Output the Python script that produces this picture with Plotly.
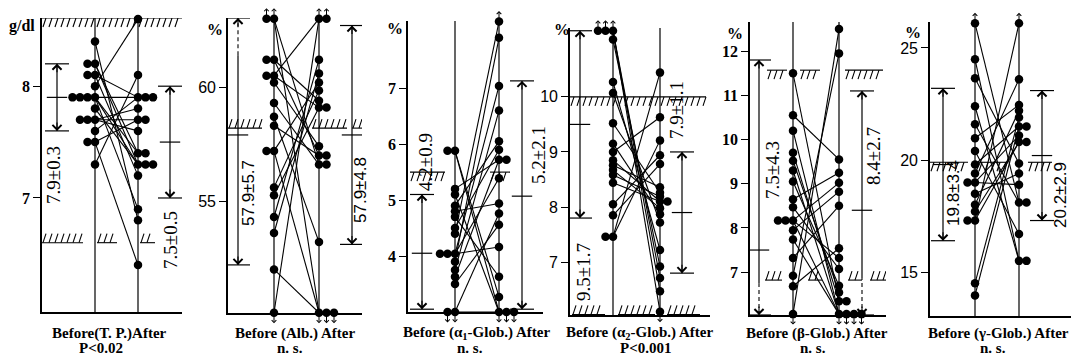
import plotly.graph_objects as go
import numpy as np

W, H = 1071, 363

# ---------------- data ----------------
tp_before = [8.4, 8.2, 8.2, 8.1, 8.1, 8.0, 7.9, 7.9, 7.9, 7.9, 7.8, 7.7, 7.7, 7.7, 7.6, 7.5, 7.5, 7.3]
tp_after = [6.8, 7.3, 7.4, 7.9, 7.2, 8.6, 7.9, 7.3, 7.4, 6.9, 7.3, 7.7, 7.6, 7.8, 7.9, 7.7, 6.4, 8.1]

alb_before = [63.0, 63.0, 61.2, 61.2, 60.5, 60.5, 60.2, 59.3, 58.7, 58.3, 57.2, 57.2, 55.6, 55.25, 54.3, 53.6, 52.0, 50.1]
alb_after = [56.6, 50.1, 59.4, 57.0, 63.0, 59.1, 57.4, 56.6, 53.2, 57.0, 60.2, 50.1, 59.85, 59.1, 61.2, 60.6, 50.1, 63.0]

a1_before = [5.88, 5.88, 5.2, 5.1, 4.9, 4.8, 4.7, 4.5, 4.4, 4.04, 4.04, 4.04, 3.9, 3.75, 3.63, 3.5, 3.0, 3.0]
a1_after = [3.27, 3.0, 5.72, 3.0, 6.05, 4.94, 3.63, 5.9, 8.19, 7.04, 4.16, 5.39, 7.9, 6.6, 5.72, 4.56, 4.76, 3.0]

a2_before = [11.2, 11.2, 11.2, 11.04, 10.27, 10.07, 9.52, 9.15, 9.0, 8.85, 8.76, 8.67, 8.58, 8.44, 8.05, 7.85, 7.46, 7.46]
a2_after = [6.1, 6.47, 6.71, 6.92, 7.22, 7.72, 8.26, 7.87, 9.63, 8.10, 8.36, 7.98, 8.19, 8.10, 8.94, 8.78, 10.44, 9.21]

b_before = [11.5, 10.55, 10.2, 9.7, 9.52, 9.3, 9.05, 8.65, 8.47, 8.17, 8.17, 8.17, 7.95, 7.74, 7.32, 6.92, 6.68, 6.05]
b_after = [6.34, 9.55, 6.05, 6.34, 6.54, 6.05, 6.69, 9.25, 7.07, 9.02, 6.05, 7.32, 8.82, 6.05, 8.5, 11.95, 7.54, 12.5]

g_before = [26.1, 24.5, 23.65, 22.4, 21.6, 20.97, 20.4, 19.8, 19.4, 19.0, 19.0, 18.5, 18.0, 17.7, 17.3, 17.3, 14.5, 13.96]
g_after = [18.1, 15.5, 19.85, 15.5, 18.1, 22.46, 16.7, 21.5, 23.6, 18.9, 21.1, 19.4, 22.2, 20.8, 26.1, 20.8, 21.9, 21.5]

# y tick values
tp_ticks = [7, 8]
alb_ticks = [55, 60]
a1_ticks = [4, 5, 6, 7]
a2_ticks = [7, 8, 9, 10]
b_ticks = [7, 8, 9, 10, 11, 12]
g_ticks = [15, 20, 25]

# mean +- SD bars as drawn (low, mean, high)
tp_bar_before = (7.6, 7.9, 8.2)
tp_bar_after = (7.0, 7.5, 8.0)
alb_bar_before = (52.2, 57.9, 63.03)
alb_bar_after = (53.1, 57.9, 62.7)
a1_bar_before = (3.05, 4.05, 5.1)
a1_bar_after = (3.05, 5.07, 7.13)
a2_bar_before = (7.8, 9.5, 11.2)
a2_bar_after = (6.8, 7.9, 9.0)
b_bar_before = (6.03, 7.5, 11.8)
b_bar_after = (6.03, 8.4, 11.1)
g_bar_before = (16.4, 19.8, 23.2)
g_bar_after = (17.3, 20.2, 23.1)

# stats labels
tp_stats = ["7.9±0.3", "7.5±0.5"]
alb_stats = ["57.9±5.7", "57.9±4.8"]
a1_stats = ["4.2±0.9", "5.2±2.1"]
a2_stats = ["9.5±1.7", "7.9±1.1"]
b_stats = ["7.5±4.3", "8.4±2.7"]
g_stats = ["19.8±3.4", "20.2±2.9"]

# normal-range limits (value)
tp_limits = [6.6, 8.61]
alb_limits = [58.2]
a1_limits = [5.5]
a2_limits = [10.0, 6.05]
b_limits = [11.57, 6.82]
g_limits = [19.9]

titles = ["Before(T. P.)After", "Before (Alb.) After", "Before (α<sub>1</sub>-Glob.) After",
          "Before (α<sub>2</sub>-Glob.) After", "Before (β-Glob.) After", "Before (γ-Glob.) After"]
pvals = ["P&lt;0.02", "n. s.", "n. s.", "P&lt;0.001", "n. s.", "n. s."]
units = ["g/dl", "%", "%", "%", "%", "%"]

SERIF = "Liberation Serif"
SANS = "Liberation Sans"

# ---------------- layout (pixel geometry per panel) ----------------
panels = [
    dict(before=tp_before, after=tp_after, ticks=tp_ticks, bars=(tp_bar_before, tp_bar_after), stats=tp_stats,
         limits=tp_limits, axis=42, B=95, A=138, right=182, top=18, bottom=312, ymin=5.98, ymax=8.61,
         barx=(57, 170), dash=(None, None), txt=((53, 175), (170, 240)), unit_pos=(22, 26), lab=(109, 101),
         tfont=SERIF, tweight="bold", sfont=(SERIF, 19),
         hatch=[(+1, [(42, 83), (97, 117), (140, 155)]), (-1, [(42, 182)])], arrows=False),
    dict(before=alb_before, after=alb_after, ticks=alb_ticks, bars=(alb_bar_before, alb_bar_after), stats=alb_stats,
         limits=alb_limits, axis=228, B=274, A=319, right=362, top=18, bottom=313, ymin=50.09, ymax=63.03,
         barx=(238, 352), dash=((61.4, 63.03), None), txt=((248, 193), (361, 190)), unit_pos=(215, 30),
         lab=(295, 290), tfont=SANS, tweight="normal", sfont=(SANS, 17),
         hatch=[(+1, [(228, 262), (312, 347), (352, 362)])], arrows=True),
    dict(before=a1_before, after=a1_after, ticks=a1_ticks, bars=(a1_bar_before, a1_bar_after), stats=a1_stats,
         limits=a1_limits, axis=408, B=455, A=499, right=543, top=21, bottom=312, ymin=3.0, ymax=8.2,
         barx=(422, 522), dash=(None, None), txt=((425, 162), (538, 155)), unit_pos=(395, 28), lab=(476, 470),
         tfont=SERIF, tweight="bold", sfont=(SERIF, 19),
         hatch=[(-1, [(410, 445), (490, 510)])], arrows=True),
    dict(before=a2_before, after=a2_after, ticks=a2_ticks, bars=(a2_bar_before, a2_bar_after), stats=a2_stats,
         limits=a2_limits, axis=570, B=613, A=660, right=710, top=28, bottom=315, ymin=6.04, ymax=11.25,
         barx=(580, 682), dash=(None, None), txt=((583, 272), (677, 110)), unit_pos=(562, 30), lab=(639, 645),
         tfont=SANS, tweight="normal", sfont=(SERIF, 19),
         hatch=[(-1, [(570, 706)]), (+1, [(572, 605), (618, 655), (667, 700)])], arrows=True),
    dict(before=b_before, after=b_after, ticks=b_ticks, bars=(b_bar_before, b_bar_after), stats=b_stats,
         limits=b_limits, axis=750, B=793, A=839, right=886, top=22, bottom=315, ymin=6.03, ymax=12.66,
         barx=(759, 862), dash=((6.03, 6.75), (6.03, 6.85)), txt=((772, 170), (873, 156)), unit_pos=(735, 33),
         lab=(817, 813), tfont=SERIF, tweight="bold", sfont=(SERIF, 19),
         hatch=[(-1, [(767, 787), (800, 820), (845, 883)]),
                (+1, [(765, 782), (808, 822), (848, 862), (870, 887)])], arrows=True),
    dict(before=g_before, after=g_after, ticks=g_ticks, bars=(g_bar_before, g_bar_after), stats=g_stats,
         limits=g_limits, axis=930, B=975, A=1019, right=1071, top=22, bottom=316, ymin=13.04, ymax=26.16,
         barx=(943, 1042), dash=(None, None), txt=((953, 193), (1060, 195)), unit_pos=(913, 32), lab=(998, 993),
         tfont=SANS, tweight="normal", sfont=(SANS, 17),
         hatch=[(-1, [(930, 968), (978, 1008), (1028, 1052)])], arrows=True),
]

fig = go.Figure()
annotations = []
shapes = []


def px2paper(x, y):
    return x / W, 1 - y / H


for i, p in enumerate(panels, start=1):
    sfx = "" if i == 1 else str(i)
    xr, yr = "x" + sfx, "y" + sfx
    ux = p["A"] - p["B"]
    ppu = (p["bottom"] - p["top"]) / (p["ymax"] - p["ymin"])

    def dx(px):
        return (px - p["B"]) / ux

    xmin, xmax = dx(p["axis"]), dx(p["right"])
    fig.update_layout(**{
        "xaxis" + sfx: dict(domain=[p["axis"] / W, p["right"] / W], range=[xmin, xmax], showline=True,
                            linecolor="black", linewidth=1.6, showticklabels=False, ticks="", showgrid=False,
                            zeroline=False, anchor=yr, fixedrange=True),
        "yaxis" + sfx: dict(domain=[1 - p["bottom"] / H, 1 - p["top"] / H], range=[p["ymin"], p["ymax"]],
                            showline=True, linecolor="black", linewidth=1.6, ticks="outside", ticklen=7,
                            tickwidth=1.3, tickcolor="black", tickvals=p["ticks"], showgrid=False, zeroline=False,
                            anchor=xr, fixedrange=True,
                            tickfont=dict(family=p["tfont"], size=16, color="black", weight=p["tweight"])),
    })

    # before / after vertical lines
    for xv in (0, 1):
        shapes.append(dict(type="line", xref=xr, yref=yr + " domain", x0=xv, x1=xv, y0=0, y1=1,
                           line=dict(color="black", width=1.2)))

    # hatched normal-range lines
    hx, hy = [], []
    h = 9 / ppu
    sdx = 3 / ux
    for val, (direction, segs) in zip(p["limits"], p["hatch"]):
        for x0p, x1p in segs:
            hx += [dx(x0p), dx(x1p), None]
            hy += [val, val, None]
            for xp in np.arange(x0p + 4, x1p + 0.5, 6):
                xs = dx(xp)
                if direction > 0:
                    hx += [xs - sdx, xs, None]
                    hy += [val, val + h, None]
                else:
                    hx += [xs - sdx, xs, None]
                    hy += [val - h, val, None]
    fig.add_trace(go.Scatter(x=hx, y=hy, mode="lines", line=dict(color="black", width=1.1),
                             xaxis=xr, yaxis=yr, hoverinfo="skip", showlegend=False, cliponaxis=False))

    # connecting lines
    lx, ly = [], []
    for b, a in zip(p["before"], p["after"]):
        lx += [0, 1, None]
        ly += [b, a, None]
    fig.add_trace(go.Scatter(x=lx, y=ly, mode="lines", line=dict(color="black", width=1.1),
                             xaxis=xr, yaxis=yr, hoverinfo="skip", showlegend=False, cliponaxis=False))

    # dots (duplicates spread sideways), off-scale values get small arrows
    step = 7.5 / ux
    tol = 0.012 * (p["ymax"] - p["ymin"])
    for vals, base, sign in ((p["before"], 0, -1), (p["after"], 1, +1)):
        seen = {}
        xs = []
        for v in vals:
            k = seen.get(v, 0)
            seen[v] = k + 1
            xs.append(base + sign * k * step)
        fig.add_trace(go.Scatter(x=xs, y=vals, mode="markers", marker=dict(color="black", size=8.5),
                                 xaxis=xr, yaxis=yr, showlegend=False, cliponaxis=False))
        if p["arrows"]:
            for xv, v in zip(xs, vals):
                off = None
                if v >= p["ymax"] - tol:
                    off = -12
                elif v <= p["ymin"] + tol:
                    off = 12
                if off is not None:
                    annotations.append(dict(x=xv, y=v, xref=xr, yref=yr, ax=0, ay=off, text="",
                                            showarrow=True, arrowside="start", startarrowhead=4,
                                            startarrowsize=0.9, arrowwidth=1, arrowcolor="black",
                                            standoff=0, startstandoff=0))

    # mean +- SD bars
    cw = 12 / ux
    for bx_px, (lo, mid, hi), dsh in zip(p["barx"], p["bars"], p["dash"]):
        bx = dx(bx_px)
        fig.add_trace(go.Scatter(
            x=[bx - cw, bx + cw, None, bx - cw, bx + cw, None, bx - cw * 0.85, bx + cw * 0.85],
            y=[lo, lo, None, hi, hi, None, mid, mid],
            mode="lines", line=dict(color="black", width=1.2), xaxis=xr, yaxis=yr,
            hoverinfo="skip", showlegend=False, cliponaxis=False))
        # shaft: solid part and optional dashed part
        if dsh is None:
            sx, sy = [bx, bx], [lo, hi]
        else:
            d0, d1 = dsh
            if d0 <= lo + 1e-9:
                sx, sy = [bx, bx], [d1, hi]
            else:
                sx, sy = [bx, bx], [lo, d0]
            fig.add_trace(go.Scatter(x=[bx, bx], y=[d0, d1], mode="lines",
                                     line=dict(color="black", width=1.1, dash="4px,3px"),
                                     xaxis=xr, yaxis=yr, hoverinfo="skip", showlegend=False, cliponaxis=False))
        fig.add_trace(go.Scatter(x=sx, y=sy, mode="lines", line=dict(color="black", width=1.2),
                                 xaxis=xr, yaxis=yr, hoverinfo="skip", showlegend=False, cliponaxis=False))
        # arrowheads
        for tip, ay in ((hi, 10), (lo, -10)):
            annotations.append(dict(x=bx, y=tip, ax=0, ay=ay, xref=xr, yref=yr, text="", showarrow=True,
                                    arrowhead=4, arrowsize=1.6, arrowwidth=1.1, arrowcolor="black",
                                    standoff=0, startstandoff=0))

    # rotated stats text
    for (tx, ty), s in zip(p["txt"], p["stats"]):
        px_, py_ = px2paper(tx, ty)
        annotations.append(dict(x=px_, y=py_, xref="paper", yref="paper", text=s, showarrow=False,
                                textangle=-90, font=dict(family=p["sfont"][0], size=p["sfont"][1], color="black"),
                                xanchor="center", yanchor="middle"))

    # unit label
    ux_, uy_ = px2paper(*p["unit_pos"])
    annotations.append(dict(x=ux_, y=uy_, xref="paper", yref="paper", text=units[i - 1], showarrow=False,
                            font=dict(family=SERIF, size=16, color="black", weight="bold"),
                            xanchor="center", yanchor="middle"))

    # bottom labels
    lx1, ly1 = px2paper(p["lab"][0], 333)
    lx2, ly2 = px2paper(p["lab"][1], 348)
    annotations.append(dict(x=lx1, y=ly1, xref="paper", yref="paper", text=titles[i - 1], showarrow=False,
                            font=dict(family=SERIF, size=15, color="black", weight="bold"),
                            xanchor="center", yanchor="middle"))
    annotations.append(dict(x=lx2, y=ly2, xref="paper", yref="paper", text=pvals[i - 1], showarrow=False,
                            font=dict(family=SERIF, size=15, color="black", weight="bold"),
                            xanchor="center", yanchor="middle"))

fig.update_layout(width=W, height=H, margin=dict(l=0, r=0, t=0, b=0), paper_bgcolor="white",
                  plot_bgcolor="white", showlegend=False, annotations=annotations, shapes=shapes)
fig.write_html("out.html", config={"displayModeBar": False},
               post_script="document.body.style.margin='0px';document.body.style.overflow='hidden';")
